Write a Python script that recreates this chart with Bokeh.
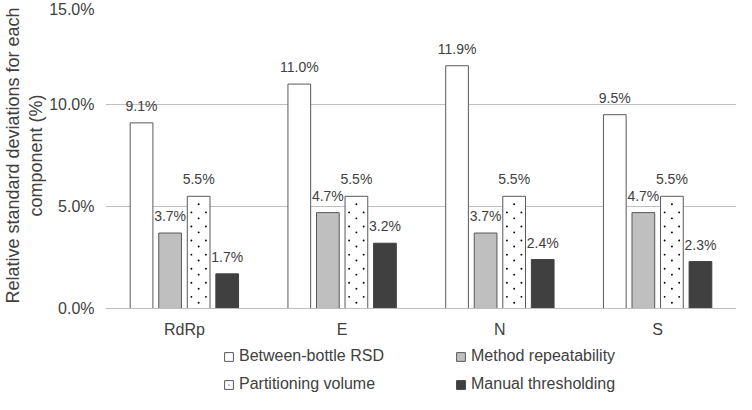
from bokeh.plotting import figure
from bokeh.layouts import column
from bokeh.models import (ColumnDataSource, FactorRange, Range1d, FixedTicker,
                          PrintfTickFormatter, LabelSet, Legend, LegendItem)
from bokeh.transform import dodge
from bokeh.embed import file_html
from bokeh.resources import INLINE
from bokeh.core.properties import value

categories = ["RdRp", "E", "N", "S"]
between_bottle = [9.1, 11.0, 11.9, 9.5]
method_repeat = [3.7, 4.7, 3.7, 4.7]
partition_vol = [5.5, 5.5, 5.5, 5.5]
manual_thresh = [1.7, 3.2, 2.4, 2.3]
series_names = ["Between-bottle RSD", "Method repeatability",
                "Partitioning volume", "Manual thresholding"]
y_ticks = [0, 5, 10, 15]

FONT = "Liberation Sans"
TXT = "#404040"
OUT = "#595959"

data = dict(cat=categories, s0=between_bottle, s1=method_repeat,
            s2=partition_vol, s3=manual_thresh)
for k in ["s0", "s1", "s2", "s3"]:
    data[k + "_lbl"] = [f"{v:.1f}%" for v in data[k]]
src = ColumnDataSource(data)

styles = [
    dict(fill_color="white", line_color=OUT),
    dict(fill_color="#bfbfbf", line_color=OUT),
    dict(fill_color="white", line_color=OUT),
    dict(fill_color="#404040", line_color="#404040"),
]

LEG_H = 52
p = figure(width=736, height=394 - LEG_H, x_range=FactorRange(*categories),
           y_range=Range1d(0, 15), output_backend="svg", toolbar_location=None,
           min_border_left=100, min_border_right=0, min_border_top=2,
           min_border_bottom=34)
p.outline_line_color = None
p.background_fill_color = "white"

bw = 0.144
pitch = 0.181
offsets = [-1.5 * pitch, -0.5 * pitch, 0.5 * pitch, 1.5 * pitch]
for k, off, st in zip(["s0", "s1", "s2", "s3"], offsets, styles):
    p.vbar(x=dodge("cat", off, range=p.x_range), top=k, width=bw,
           source=src, line_width=1, **st)

# dotted fill pattern of the "Partitioning volume" bars (staggered lattice)
dot_step = 0.69
dot_cols = [(-0.046, 0.57), (0.0, 0.28), (0.046, 0.57)]
for dx, start in dot_cols:
    cats, ys = [], []
    for c, top in zip(categories, partition_vol):
        y = start
        while y < top - 0.15:
            cats.append(c)
            ys.append(y)
            y += dot_step
    dsrc = ColumnDataSource(dict(cat=cats, y=ys))
    p.scatter(x=dodge("cat", offsets[2] + dx, range=p.x_range), y="y", source=dsrc,
              marker="circle", size=1.9, fill_color="black", line_color=None)

for k, off in zip(["s0", "s1", "s2", "s3"], offsets):
    lbl = LabelSet(x=dodge("cat", off, range=p.x_range), y=k, text=k + "_lbl",
                   source=src, text_align="center", text_baseline="alphabetic",
                   y_offset=12, text_font_size="14px", text_font=value(FONT),
                   text_color=TXT)
    p.add_layout(lbl)

# axes
p.yaxis.ticker = FixedTicker(ticks=y_ticks)
p.yaxis.formatter = PrintfTickFormatter(format="%.1f%%")
p.yaxis.axis_line_color = None
p.yaxis.major_tick_line_color = None
p.yaxis.minor_tick_line_color = None
p.yaxis.major_tick_out = 0
p.yaxis.major_label_standoff = 11
p.yaxis.major_label_text_font_size = "16px"
p.yaxis.major_label_text_font = FONT
p.yaxis.major_label_text_color = TXT
p.yaxis.axis_label = "Relative standard deviations for each\ncomponent (%)"
p.yaxis.axis_label_text_font_size = "18px"
p.yaxis.axis_label_text_font = FONT
p.yaxis.axis_label_text_font_style = "normal"
p.yaxis.axis_label_text_color = TXT
p.yaxis.axis_label_text_line_height = 1.15
p.yaxis.axis_label_standoff = 0

p.xaxis.axis_line_color = "#bfbfbf"
p.xaxis.major_tick_line_color = None
p.xaxis.minor_tick_line_color = None
p.xaxis.major_tick_out = 0
p.xaxis.major_tick_in = 0
p.xaxis.axis_label_standoff = 0
p.xaxis.major_label_standoff = 12
p.xaxis.major_label_text_font_size = "16px"
p.xaxis.major_label_text_font = FONT
p.xaxis.major_label_text_color = TXT

p.xgrid.grid_line_color = None
p.ygrid.ticker = FixedTicker(ticks=y_ticks)
p.ygrid.grid_line_color = "#bfbfbf"
p.ygrid.grid_line_width = 1

# legend strip below the chart (swatches drawn outside its visible range)
pl = figure(width=736, height=LEG_H, x_range=Range1d(0, 1), y_range=Range1d(0, 1),
            output_backend="svg", toolbar_location=None,
            x_axis_location=None, y_axis_location=None, min_border=0)
pl.outline_line_color = None
pl.xgrid.grid_line_color = None
pl.ygrid.grid_line_color = None
swatch = ColumnDataSource(dict(x=[-5], top=[-5]))
leg_renderers = [[pl.vbar(x="x", top="top", width=0.1, source=swatch, line_width=1, **st)]
                 for st in styles]
leg_renderers[2].append(pl.scatter(x="x", y="top", source=swatch, marker="dot",
                                   line_color="black", fill_color="black"))
order = [0, 2, 1, 3]  # column-major fill -> rows: (0, 1), (2, 3)
items = [LegendItem(label=series_names[i], renderers=leg_renderers[i]) for i in order]
legend = Legend(items=items, ncols=2, location=(118, 0),
                glyph_width=11, glyph_height=11, label_height=20,
                label_standoff=5, spacing=8, label_width=208,
                padding=0, margin=0, border_line_color=None,
                background_fill_alpha=0,
                label_text_font_size="16px", label_text_font=FONT,
                label_text_color=TXT)
pl.add_layout(legend, "center")

layout = column(p, pl, spacing=0)
open("out.html", "w").write(file_html(layout, INLINE))
